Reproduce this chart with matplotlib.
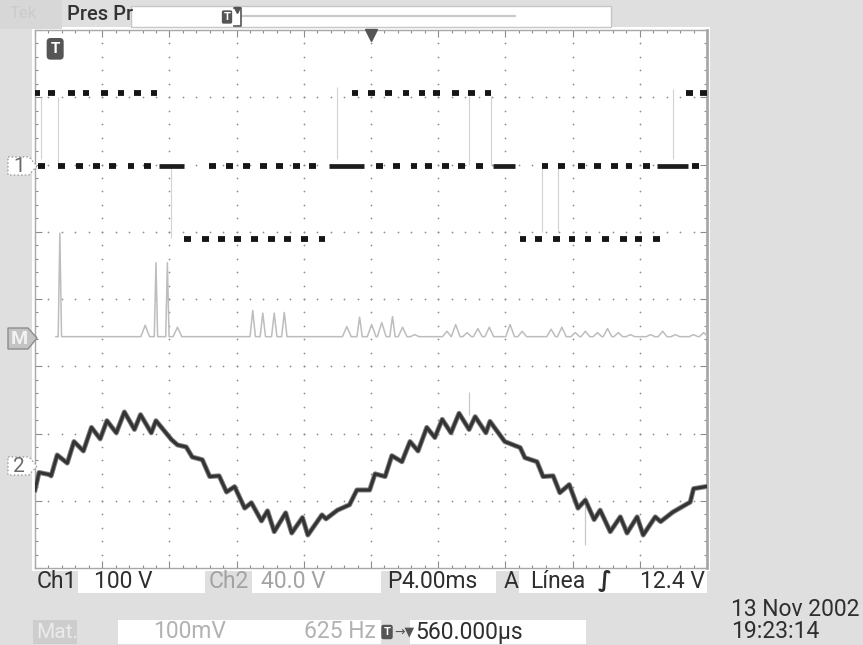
import matplotlib
matplotlib.use('Agg')
import numpy as np
import matplotlib.pyplot as plt
from matplotlib.patches import Rectangle, Polygon

plt.rcParams['font.family'] = ['Roboto', 'DejaVu Sans']

# all trace values are in screen divisions (10 x 8)
# ch1 in dot mode: blob centres at the three levels
ch1_high_y = 7.06
ch1_zero_y = 5.98
ch1_low_y = 4.89
ch1_high_x = [0.03, 0.25, 0.54, 0.76, 1.03, 1.28, 1.52, 1.77,
              4.76, 5.01, 5.26, 5.52, 5.76, 5.98, 6.26, 6.50, 6.74,
              9.74, 9.95]
ch1_low_x = [2.27, 2.54, 2.77, 3.01, 3.27, 3.52, 3.76, 4.01, 4.27,
             7.26, 7.49, 7.76, 7.99, 8.23, 8.49, 8.76, 8.98, 9.25]
ch1_zero_x = [0.10, 0.39, 0.66, 0.91, 1.15, 1.43, 1.67,
              2.64, 2.89, 3.15, 3.40, 3.64, 3.89, 4.13,
              5.13, 5.38, 5.64, 5.86, 6.11, 6.35, 6.61,
              7.59, 7.84, 8.13, 8.37, 8.62, 8.84, 9.10, 9.83]
ch1_zero_runs = [(1.85, 2.22), (4.38, 4.90), (6.82, 7.15), (9.26, 9.71)]
# faint edges caught by single sweeps
ch1_edge_x = [0.09, 0.34, 2.03, 4.50, 6.46, 6.79, 7.55, 7.79, 9.50]
ch1_edge_y0 = [6.08, 6.00, 4.90, 6.08, 6.00, 6.00, 5.00, 5.00, 6.08]
ch1_edge_y1 = [7.00, 7.00, 6.00, 7.15, 7.02, 7.02, 6.00, 6.00, 7.12]

# math (FFT) trace: baseline plus peaks
math_base = 3.44
math_start = 0.31
math_peak_x = [0.37, 1.64, 1.80, 1.97, 2.12, 3.24, 3.39, 3.56, 3.71,
               4.64, 4.83, 5.01, 5.16, 5.32, 5.47, 5.65, 6.13, 6.26,
               6.43, 6.59, 6.76, 7.07, 7.25, 7.68, 7.84, 8.04, 8.19,
               8.37, 8.52, 8.68, 8.86, 9.16, 9.34, 9.53, 9.80, 9.95]
math_peak_y = [4.98, 3.61, 4.54, 4.54, 3.58, 3.83, 3.79, 3.79, 3.80,
               3.59, 3.73, 3.62, 3.65, 3.74, 3.58, 3.47, 3.52, 3.62,
               3.50, 3.56, 3.58, 3.62, 3.52, 3.55, 3.58, 3.50, 3.52,
               3.50, 3.56, 3.50, 3.47, 3.47, 3.52, 3.47, 3.47, 3.50]

# ch2 trace
ch2_x = [0.00, 0.06, 0.21, 0.24, 0.33, 0.48, 0.58, 0.72, 0.84, 0.97,
         1.07, 1.21, 1.33, 1.48, 1.57, 1.73, 1.80, 2.03, 2.12, 2.25,
         2.34, 2.49, 2.60, 2.74, 2.85, 2.97, 3.12, 3.22, 3.37, 3.46,
         3.56, 3.73, 3.82, 3.98, 4.06, 4.27, 4.33, 4.50, 4.68, 4.79,
         4.98, 5.06, 5.21, 5.31, 5.46, 5.58, 5.70, 5.83, 5.95, 6.06,
         6.19, 6.31, 6.46, 6.55, 6.71, 6.77, 6.99, 7.22, 7.29, 7.47,
         7.56, 7.71, 7.81, 7.95, 8.08, 8.19, 8.32, 8.41, 8.56, 8.71,
         8.81, 8.96, 9.05, 9.23, 9.31, 9.49, 9.75, 9.80, 9.98]
ch2_y = [1.16, 1.42, 1.39, 1.37, 1.68, 1.56, 1.88, 1.74, 2.09, 1.92,
         2.19, 2.01, 2.32, 2.06, 2.28, 2.01, 2.19, 1.91, 1.83, 1.80,
         1.65, 1.61, 1.36, 1.37, 1.13, 1.21, 0.89, 0.97, 0.70, 0.85,
         0.54, 0.82, 0.52, 0.75, 0.49, 0.79, 0.73, 0.86, 0.94, 1.16,
         1.16, 1.40, 1.36, 1.67, 1.58, 1.88, 1.74, 2.09, 1.94, 2.21,
         2.01, 2.30, 2.06, 2.25, 2.01, 2.18, 1.88, 1.79, 1.64, 1.58,
         1.36, 1.37, 1.12, 1.24, 0.89, 1.01, 0.72, 0.86, 0.54, 0.76,
         0.52, 0.76, 0.49, 0.76, 0.69, 0.83, 0.98, 1.18, 1.21]
ch2_spike_x = [6.46, 8.19]
ch2_spike_y0 = [2.28, 0.34]
ch2_spike_y1 = [2.62, 1.09]

W, H = 863, 645
fig = plt.figure(figsize=(W / 100, H / 100), dpi=100, facecolor='#dfdfdf')


def px_axes(z):
    a = fig.add_axes([0, 0, 1, 1], zorder=z)
    a.set_xlim(0, W)
    a.set_ylim(H, 0)
    a.axis('off')
    a.patch.set_alpha(0)
    return a


back = px_axes(0)
ax = fig.add_axes([35 / W, (H - 568) / H, 672 / W, 538 / H], zorder=1)
front = px_axes(2)

# ---- screen ----
ax.set_xlim(0, 10)
ax.set_ylim(0, 8)
ax.set_facecolor('white')
for s in ax.spines.values():
    s.set_color('#a8a8a8')
    s.set_linewidth(1.0)
ax.spines['right'].set_linewidth(2.0)
ax.set_xticks(range(11))
ax.set_yticks(range(9))
ax.set_xticks(np.arange(0, 10.01, 0.2), minor=True)
ax.set_yticks(np.arange(0, 8.01, 0.2), minor=True)
ax.tick_params(which='both', direction='in', top=True, right=True,
               labelbottom=False, labelleft=False, color='#8c8c8c', width=0.8)
ax.tick_params(which='major', length=5)
ax.tick_params(which='minor', length=2.5)

# dotted graticule
steps_x = np.arange(0, 10.01, 0.2)
steps_y = np.arange(0, 8.01, 0.2)
for k in range(1, 10):
    ax.scatter(np.full(steps_y.size, k), steps_y, s=1.6, color='#8e8e8e', lw=0, zorder=1)
for k in range(1, 8):
    ax.scatter(steps_x, np.full(steps_x.size, k), s=1.6, color='#8e8e8e', lw=0, zorder=1)

# faint edges
ax.vlines(ch1_edge_x, ch1_edge_y0, ch1_edge_y1, color='#d2d2d2', lw=0.8, zorder=2)
ax.vlines(ch2_spike_x, ch2_spike_y0, ch2_spike_y1, color='#c8c8c8', lw=0.9, zorder=2)

# math trace
mx, my = [math_start], [math_base]
for px_, py_ in zip(math_peak_x, math_peak_y):
    h = py_ - math_base
    w = 0.025 if h > 0.5 else (0.04 if h > 0.25 else 0.065)
    mx += [px_ - w, px_, px_ + w]
    my += [math_base, py_, math_base]
mx.append(10)
my.append(math_base)
ax.plot(mx, my, color='#bdbdbd', lw=1.1, zorder=3)

# ch1 blobs
hw = 0.05
blob = dict(color='#161616', lw=4.2, zorder=4, capstyle='butt')
ax.hlines(np.full(len(ch1_high_x), ch1_high_y), np.array(ch1_high_x) - hw,
          np.array(ch1_high_x) + hw, **blob)
ax.hlines(np.full(len(ch1_low_x), ch1_low_y), np.array(ch1_low_x) - hw,
          np.array(ch1_low_x) + hw, **blob)
ax.hlines(np.full(len(ch1_zero_x), ch1_zero_y), np.array(ch1_zero_x) - hw,
          np.array(ch1_zero_x) + hw, **blob)
for a0, a1 in ch1_zero_runs:
    ax.hlines(ch1_zero_y, a0, a1, color='#1c1c1c', lw=3.4, zorder=4)

# ch2: soft halo under a dark core to mimic the noisy thick trace
ax.plot(ch2_x, ch2_y, color='#808080', lw=3.6, zorder=5)
ax.plot(ch2_x, ch2_y, color='#333333', lw=2.2, zorder=5)

# trigger position arrow and T icon
ax.plot([5], [7.93], marker='v', ms=9, color='#555555', clip_on=False, zorder=6)
ax.text(0.3, 7.72, 'T', ha='center', va='center', color='white', fontsize=11,
        fontweight='bold', zorder=6,
        bbox=dict(boxstyle='round,pad=0.25', fc='#555555', ec='none'))

# ---- panel ----
back.add_patch(Rectangle((32, 27), 678, 544, fc='white', ec='none'))
back.add_patch(Rectangle((0, 0), 62, 29, fc='#d7d7d7', ec='none'))
back.text(10, 14, 'Tek', fontsize=12, color='#cbcbcb', va='center')
back.add_patch(Rectangle((131, 6), 480, 21, fc='white', ec='#c6c6c6', lw=1))
back.plot([243, 515], [16, 16], color='#c9c9c9', lw=1.6)
back.text(227, 17, 'T', ha='center', va='center', color='white', fontsize=8,
          fontweight='bold', bbox=dict(boxstyle='round,pad=0.15', fc='#555555', ec='none'))
back.plot([234, 241, 241, 234], [8, 8, 26, 26], color='#555555', lw=1.2)
back.plot([237], [10], marker='v', ms=5, color='#555555')

dark = '#2e2e2e'
faint = '#a3a3a3'
fs = 16.5
front.text(67, 15, 'Pres Pr', fontsize=14.5, fontweight='medium', color='#333333',
           va='center')

# channel markers
for lab, yc in (('1', 166), ('2', 466)):
    front.add_patch(Polygon([(8, yc - 9), (29, yc - 9), (37, yc), (29, yc + 9), (8, yc + 9)],
                            closed=True, fc='white', ec='#9a9a9a', lw=1, ls=':'))
    front.text(19, yc + 1, lab, ha='center', va='center', fontsize=15, color='#6a6a6a')
front.add_patch(Polygon([(8, 328), (28, 328), (37, 338), (28, 349), (8, 349)],
                        closed=True, fc='#c4c4c4', ec='#8c8c8c', lw=1))
front.text(19, 339, 'M', ha='center', va='center', fontsize=14, color='#f2f2f2',
           fontweight='bold')

# readout row 1
row1 = 581
for x0, x1 in ((78, 205), (252, 381), (400, 496), (519, 707)):
    back.add_patch(Rectangle((x0, 571), x1 - x0, 22, fc='white', ec='none'))
front.text(37, row1, 'Ch1', fontsize=fs, color=dark, va='center')
front.text(94, row1, '100 V', fontsize=fs, color=dark, va='center')
front.text(209, row1, 'Ch2', fontsize=fs, color=faint, va='center')
front.text(261, row1, '40.0 V', fontsize=fs, color=faint, va='center')
front.text(387, row1, 'P', fontsize=fs, color=dark, va='center')
front.text(401, row1, '4.00ms', fontsize=fs, color=dark, va='center')
front.text(504, row1, 'A', fontsize=fs, color=dark, va='center')
front.text(530, row1, 'Línea', fontsize=fs, color=dark, va='center')
front.text(598, row1, '∫', fontsize=fs, color=dark, va='center', fontweight='bold',
           family=['DejaVu Sans'])
front.text(705, row1, '12.4 V', fontsize=fs, color=dark, va='center', ha='right')

# readout row 2
row2 = 632
back.add_patch(Rectangle((33, 620), 44, 24, fc='#cdcdcd', ec='none'))
back.add_patch(Rectangle((118, 620), 263, 24, fc='white', ec='none'))
back.add_patch(Rectangle((410, 620), 176, 24, fc='white', ec='none'))
front.text(36, row2, 'Mat.', fontsize=15, color='#ebebeb', va='center')
front.text(226, row2, '100mV', fontsize=fs, color='#b2b2b2', va='center', ha='right')
front.text(376, row2, '625 Hz', fontsize=fs, color='#b2b2b2', va='center', ha='right')
front.text(387, row2, 'T', ha='center', va='center', color='white', fontsize=8,
           fontweight='bold', bbox=dict(boxstyle='round,pad=0.2', fc='#555555', ec='none'))
front.text(394, row2, '→▼', fontsize=9, color='#555555', va='center',
           family=['DejaVu Sans'])
front.text(415, row2, '560.000µs', fontsize=fs, color=dark, va='center')

front.text(731, 609, '13 Nov 2002', fontsize=fs, color=dark, va='center')
front.text(731, 632, '19:23:14', fontsize=fs, color=dark, va='center')

fig.savefig('out.png', dpi=100, facecolor=fig.get_facecolor())
